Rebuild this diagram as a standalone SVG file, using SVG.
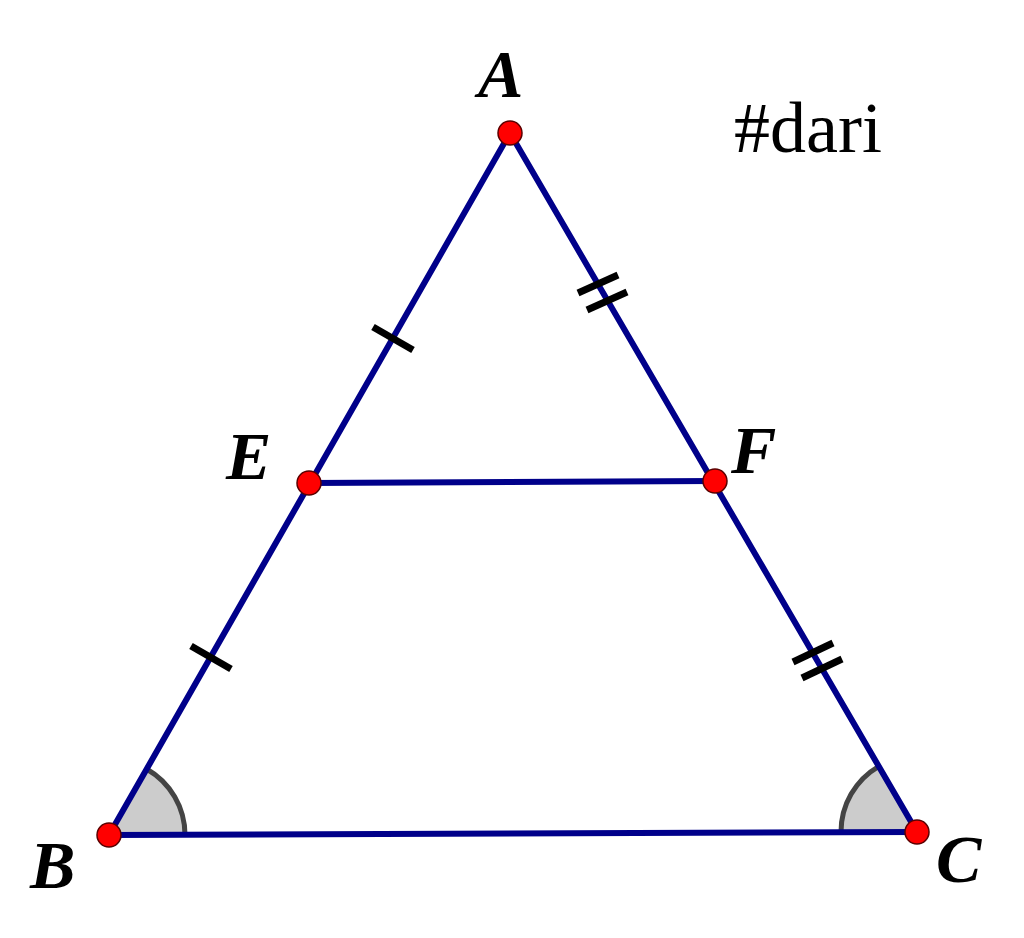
<svg xmlns="http://www.w3.org/2000/svg" width="1024" height="938" viewBox="0 0 1024 938">
<style>
.seg{stroke:#00008a;stroke-width:6;fill:none;stroke-linecap:round}
.tick{stroke:#000;stroke-width:7;fill:none}
.ang{fill:#cccccc;stroke:none}
.arc{fill:none;stroke:#444;stroke-width:5}
.pt{fill:#ff0000;stroke:#5a0000;stroke-width:1.5}
.lbl{font-family:"Liberation Serif",serif;font-weight:bold;font-style:italic;font-size:68px;fill:#000}
.txt{font-family:"Liberation Serif",serif;font-size:72px;fill:#000}
</style>
<rect width="1024" height="938" fill="#fff"/>
<g id="angles">
<path class="ang" d="M109,835 L185,835 A76,76 0 0 0 146.6,769 Z"/>
<path class="arc" d="M185,835 A76,76 0 0 0 146.6,769"/>
<path class="ang" d="M917,832 L841,832 A76,76 0 0 1 878.8,766.3 Z"/>
<path class="arc" d="M841,832 A76,76 0 0 1 878.8,766.3"/>
</g>
<g id="connectors">
<line class="seg" x1="510" y1="133" x2="109" y2="835"/>
<line class="seg" x1="510" y1="133" x2="917" y2="832"/>
<line class="seg" x1="109" y1="835" x2="917" y2="832"/>
<line class="seg" x1="309" y1="483" x2="715" y2="481"/>
</g>
<g id="ticks">
<line class="tick" x1="373" y1="327" x2="413" y2="350"/>
<line class="tick" x1="191" y1="646" x2="231" y2="669"/>
<line class="tick" x1="578" y1="293" x2="618" y2="275"/>
<line class="tick" x1="587" y1="310" x2="627" y2="292"/>
<line class="tick" x1="793" y1="662" x2="833" y2="643"/>
<line class="tick" x1="802" y1="678" x2="842" y2="659"/>
</g>
<g id="A"><circle class="pt" cx="510" cy="133" r="12"/><text class="lbl" x="478" y="97">A</text></g>
<g id="B"><circle class="pt" cx="109" cy="835" r="12"/><text class="lbl" x="30" y="888">B</text></g>
<g id="C"><circle class="pt" cx="917" cy="832" r="12"/><text class="lbl" x="936" y="882">C</text></g>
<g id="E"><circle class="pt" cx="309" cy="483" r="12"/><text class="lbl" x="226" y="479">E</text></g>
<g id="F"><circle class="pt" cx="715" cy="481" r="12"/><text class="lbl" x="731" y="473">F</text></g>
<g id="note"><text class="txt" x="734" y="152">#dari</text></g>
</svg>
